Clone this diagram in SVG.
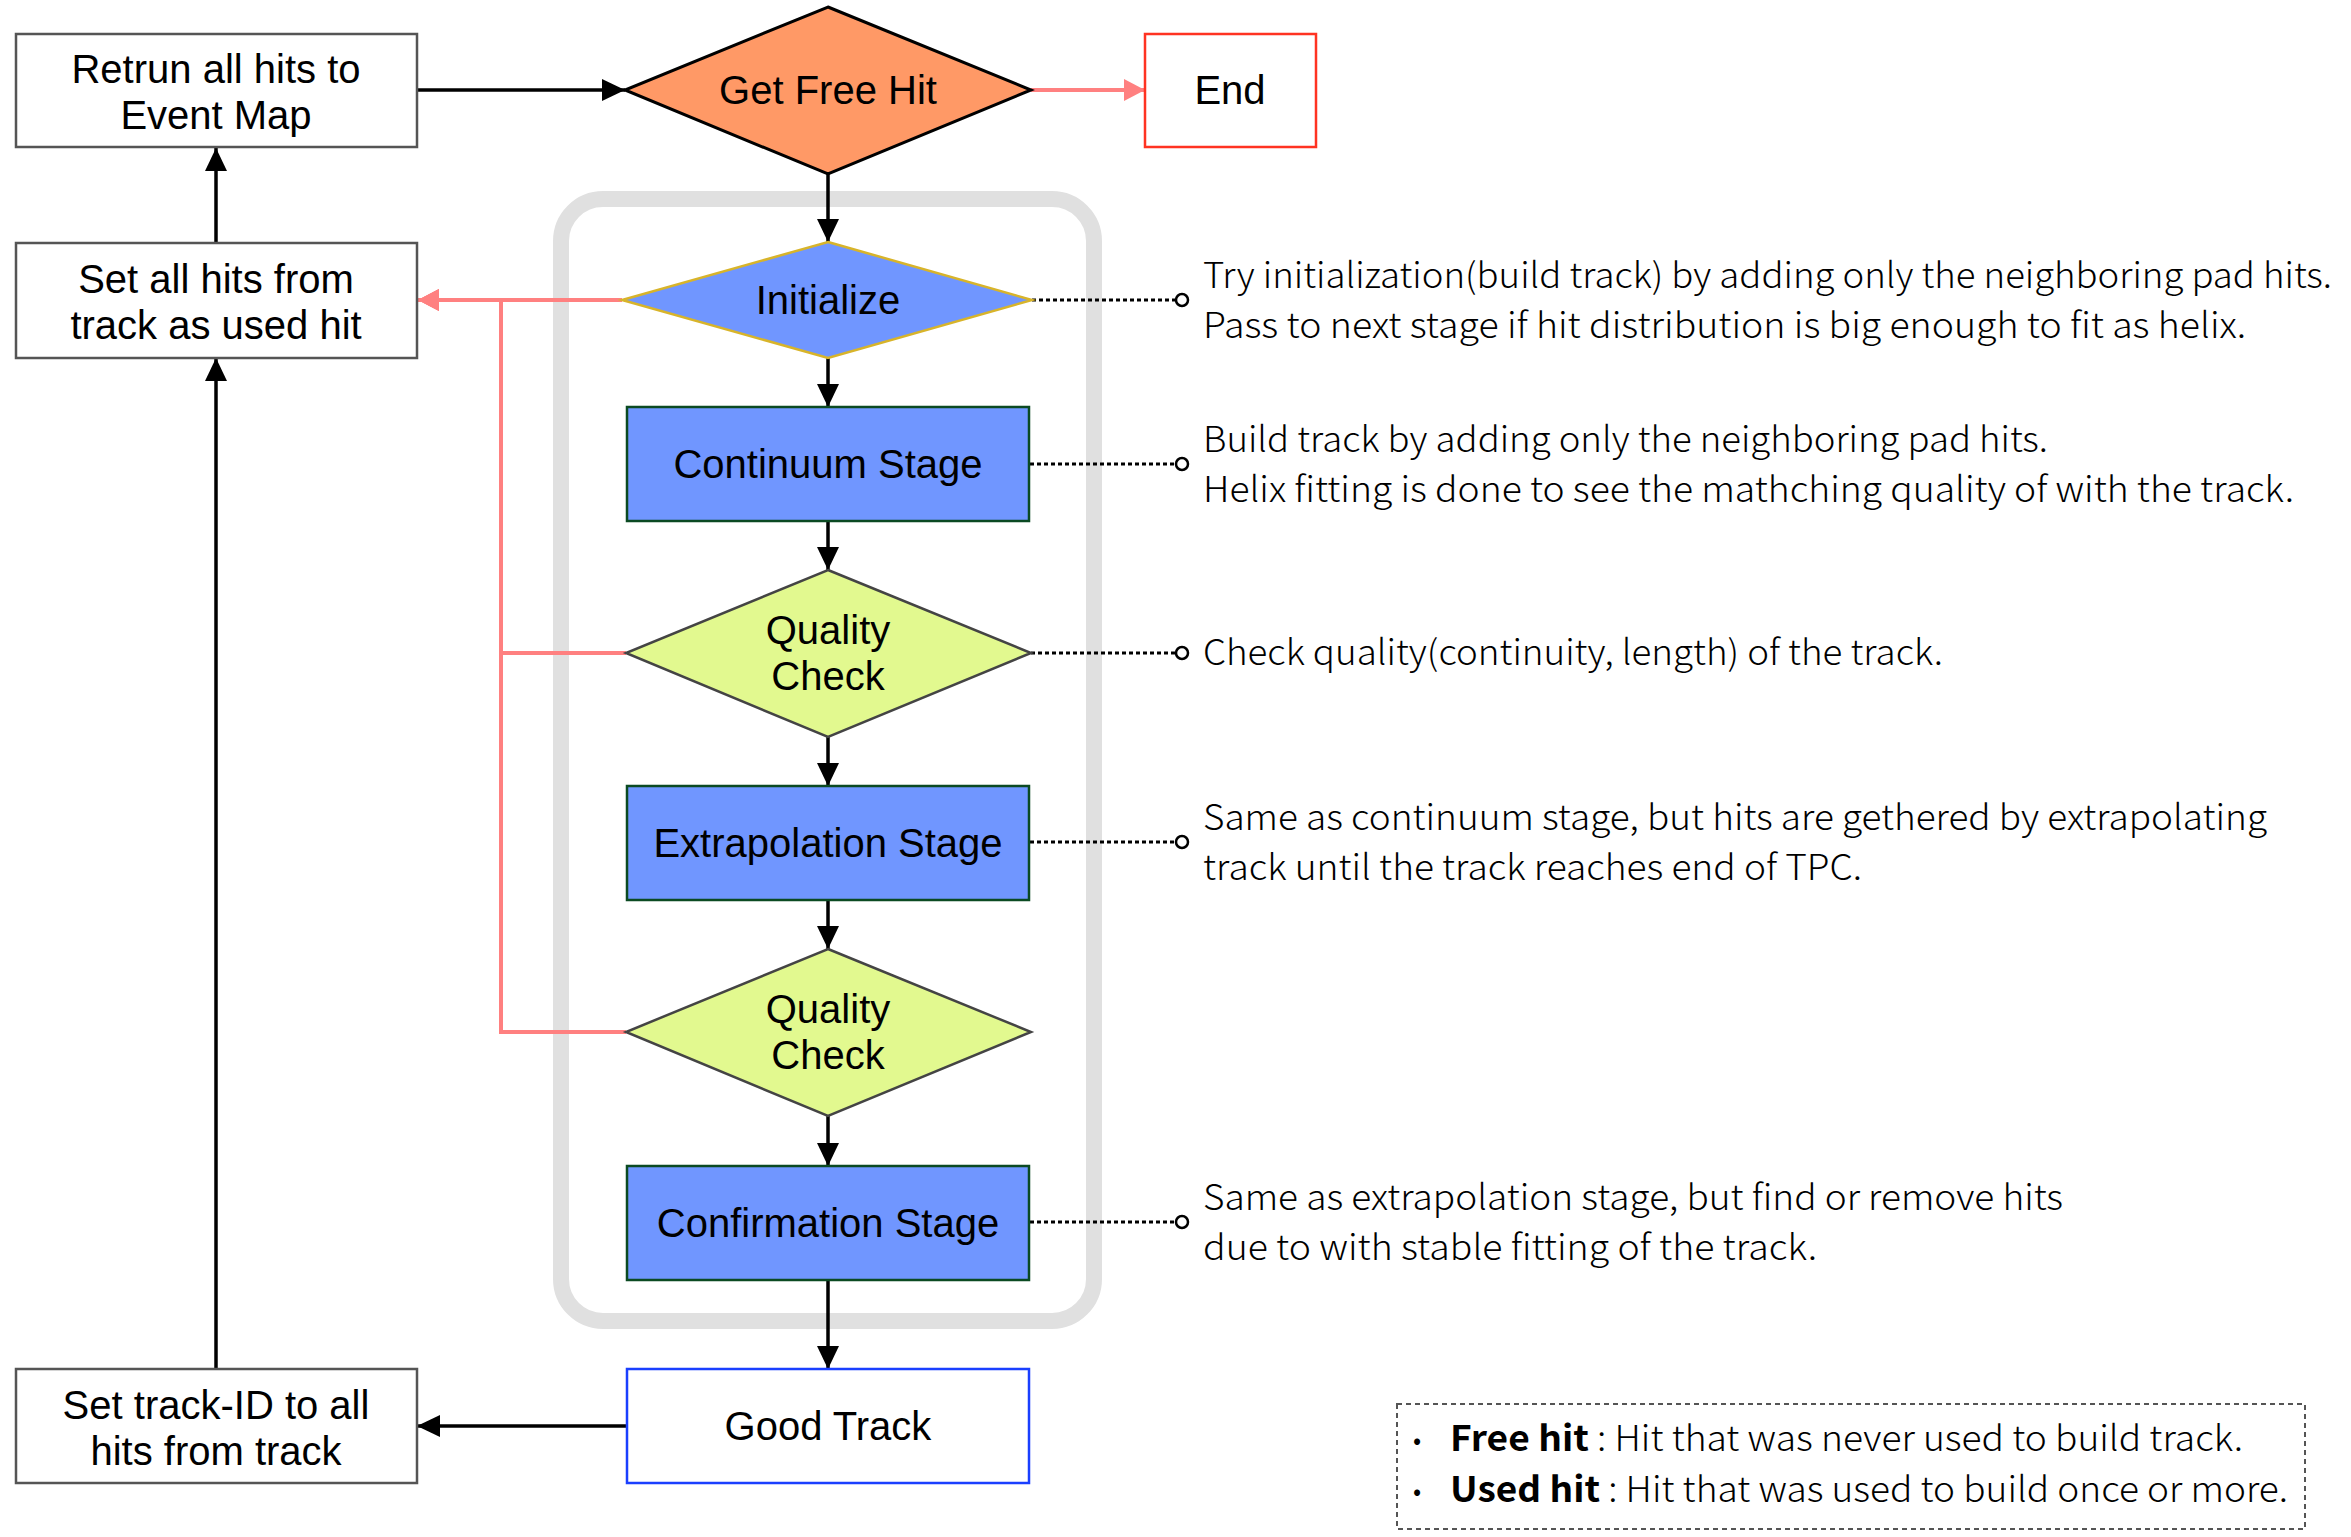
<svg xmlns="http://www.w3.org/2000/svg" width="2351" height="1537" viewBox="0 0 2351 1537">
<defs>
<style>
.node text{font-family:"Liberation Sans",Arial,sans-serif;font-size:40px;fill:#000;text-anchor:middle}
.box{fill:#fff;stroke:#555;stroke-width:2.5}
.stage{fill:#7096FF;stroke:#0B4A22;stroke-width:2.5}
.qc{fill:#E2F98F;stroke:#444;stroke-width:2.5}
.blk{fill:none;stroke:#000;stroke-width:3.5}
.pink{fill:none;stroke:#FF8080;stroke-width:4}
.dot{fill:none;stroke:#000;stroke-width:3;stroke-dasharray:4 3}
.pin{fill:#fff;stroke:#000;stroke-width:2.5}
.note{font-family:"Noto Sans CJK KR","Noto Sans",sans-serif;font-size:35px;font-weight:300;fill:#000}
.bul{font-family:"Noto Sans CJK KR","Noto Sans",sans-serif;font-size:24px;fill:#000}
</style>
<marker id="ab" markerUnits="userSpaceOnUse" markerWidth="24" markerHeight="22" refX="23" refY="11" orient="auto">
<path d="M0,0 L23,11 L0,22 z" fill="#000"/>
</marker>
<marker id="ap" markerUnits="userSpaceOnUse" markerWidth="22" markerHeight="22" refX="21" refY="11" orient="auto">
<path d="M0,0 L21,11 L0,22 z" fill="#FF8080"/>
</marker>
</defs>
<rect width="2351" height="1537" fill="#fff"/>
<rect id="container" x="561" y="199" width="533" height="1122" rx="42" fill="none" stroke="#E0E0E0" stroke-width="16"/>

<g id="connectors">
<path class="blk" d="M417,90 H625" marker-end="url(#ab)"/>
<path class="pink" d="M1031,90 H1145" marker-end="url(#ap)"/>
<path class="blk" d="M828,174 V242" marker-end="url(#ab)"/>
<path class="blk" d="M828,358 V407" marker-end="url(#ab)"/>
<path class="blk" d="M828,521 V570" marker-end="url(#ab)"/>
<path class="blk" d="M828,737 V786" marker-end="url(#ab)"/>
<path class="blk" d="M828,900 V949" marker-end="url(#ab)"/>
<path class="blk" d="M828,1116 V1166" marker-end="url(#ab)"/>
<path class="blk" d="M828,1280 V1369" marker-end="url(#ab)"/>
<path class="blk" d="M627,1426 H417" marker-end="url(#ab)"/>
<path class="blk" d="M216,1369 V358" marker-end="url(#ab)"/>
<path class="blk" d="M216,243 V148" marker-end="url(#ab)"/>
<path class="pink" d="M622,300 H418" marker-end="url(#ap)"/>
<path class="pink" d="M626,653 H501 V300 H418" marker-end="url(#ap)"/>
<path class="pink" d="M626,1032 H501 V300 H418" marker-end="url(#ap)"/>
<path class="dot" d="M1032,300 H1176"/>
<path class="dot" d="M1030,464 H1176"/>
<path class="dot" d="M1031,653 H1176"/>
<path class="dot" d="M1030,842 H1176"/>
<path class="dot" d="M1030,1222 H1176"/>
<circle class="pin" cx="1182" cy="300" r="6"/>
<circle class="pin" cx="1182" cy="464" r="6"/>
<circle class="pin" cx="1182" cy="653" r="6"/>
<circle class="pin" cx="1182" cy="842" r="6"/>
<circle class="pin" cx="1182" cy="1222" r="6"/>
</g>

<g id="n-return" class="node">
<rect class="box" x="16" y="34" width="401" height="113"/>
<text x="216" y="83">Retrun all hits to</text>
<text x="216" y="129">Event Map</text>
</g>
<g id="n-getfree" class="node">
<polygon points="828,7 1031,90 828,174 625,90" fill="#FF9966" stroke="#000" stroke-width="3"/>
<text x="828" y="104">Get Free Hit</text>
</g>
<g id="n-end" class="node">
<rect x="1145" y="34" width="171" height="113" fill="#fff" stroke="#FF3322" stroke-width="2.5"/>
<text x="1230" y="104">End</text>
</g>
<g id="n-setused" class="node">
<rect class="box" x="16" y="243" width="401" height="115"/>
<text x="216" y="293">Set all hits from</text>
<text x="216" y="339">track as used hit</text>
</g>
<g id="n-init" class="node">
<polygon points="828,242 1032,300 828,358 622,300" fill="#7096FF" stroke="#D8B42A" stroke-width="2.5"/>
<text x="828" y="314">Initialize</text>
</g>
<g id="n-cont" class="node">
<rect class="stage" x="627" y="407" width="402" height="114"/>
<text x="828" y="478">Continuum Stage</text>
</g>
<g id="n-qc1" class="node">
<polygon class="qc" points="828,570 1031,653 828,737 626,653"/>
<text x="828" y="644">Quality</text>
<text x="828" y="690">Check</text>
</g>
<g id="n-extrap" class="node">
<rect class="stage" x="627" y="786" width="402" height="114"/>
<text x="828" y="857">Extrapolation Stage</text>
</g>
<g id="n-qc2" class="node">
<polygon class="qc" points="828,949 1031,1032 828,1116 626,1032"/>
<text x="828" y="1023">Quality</text>
<text x="828" y="1069">Check</text>
</g>
<g id="n-confirm" class="node">
<rect class="stage" x="627" y="1166" width="402" height="114"/>
<text x="828" y="1237">Confirmation Stage</text>
</g>
<g id="n-good" class="node">
<rect x="627" y="1369" width="402" height="114" fill="#fff" stroke="#1A3FFF" stroke-width="2.5"/>
<text x="828" y="1440">Good Track</text>
</g>
<g id="n-settrack" class="node">
<rect class="box" x="16" y="1369" width="401" height="114"/>
<text x="216" y="1419">Set track-ID to all</text>
<text x="216" y="1465">hits from track</text>
</g>

<g id="notes">
<text class="note" x="1203" y="288" textLength="1129" lengthAdjust="spacingAndGlyphs">Try initialization(build track) by adding only the neighboring pad hits.</text>
<text class="note" x="1203" y="338" textLength="1043" lengthAdjust="spacingAndGlyphs">Pass to next stage if hit distribution is big enough to fit as helix.</text>
<text class="note" x="1203" y="452" textLength="845" lengthAdjust="spacingAndGlyphs">Build track by adding only the neighboring pad hits.</text>
<text class="note" x="1203" y="502" textLength="1091" lengthAdjust="spacingAndGlyphs">Helix fitting is done to see the mathching quality of with the track.</text>
<text class="note" x="1203" y="665" textLength="740" lengthAdjust="spacingAndGlyphs">Check quality(continuity, length) of the track.</text>
<text class="note" x="1203" y="830" textLength="1064" lengthAdjust="spacingAndGlyphs">Same as continuum stage, but hits are gethered by extrapolating</text>
<text class="note" x="1203" y="880" textLength="659" lengthAdjust="spacingAndGlyphs">track until the track reaches end of TPC.</text>
<text class="note" x="1203" y="1210" textLength="860" lengthAdjust="spacingAndGlyphs">Same as extrapolation stage, but find or remove hits</text>
<text class="note" x="1203" y="1260" textLength="614" lengthAdjust="spacingAndGlyphs">due to with stable fitting of the track.</text>
</g>

<g id="legend">
<rect x="1397" y="1404" width="908" height="125" fill="none" stroke="#555" stroke-width="2" stroke-dasharray="5 4"/>
<text class="bul" x="1413" y="1449">•</text>
<text class="note" x="1450" y="1451" textLength="793" lengthAdjust="spacingAndGlyphs"><tspan font-weight="bold">Free hit</tspan> : Hit that was never used to build track.</text>
<text class="bul" x="1413" y="1500">•</text>
<text class="note" x="1450" y="1502" textLength="838" lengthAdjust="spacingAndGlyphs"><tspan font-weight="bold">Used hit</tspan> : Hit that was used to build once or more.</text>
</g>
</svg>
